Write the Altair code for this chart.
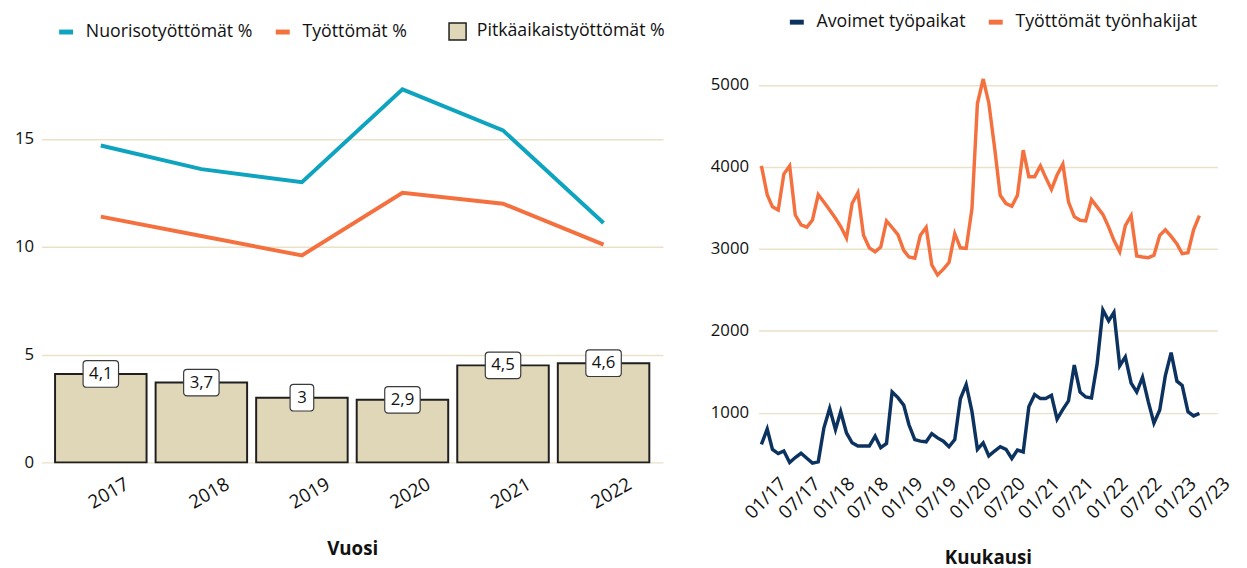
import altair as alt
import pandas as pd

# ---------------- data ----------------
years = ["2017", "2018", "2019", "2020", "2021", "2022"]
nuoriso = [14.7, 13.6, 13.0, 17.3, 15.4, 11.1]
tyottomat_pct = [11.4, 10.5, 9.6, 12.5, 12.0, 10.1]
pitka = [4.1, 3.7, 3.0, 2.9, 4.5, 4.6]

first_month = "2017-01-01"
avoimet = [612, 800, 552, 500, 532, 392, 452, 504, 444, 384, 400, 812, 1052, 792, 1012,
           752, 632, 592, 592, 592, 712, 572, 624, 1252, 1184, 1092, 852, 672, 652, 644,
           744, 692, 652, 584, 672, 1170, 1344, 1012, 552, 632, 472, 532, 584, 552, 440,
           544, 520, 1072, 1220, 1172, 1172, 1212, 920, 1040, 1144, 1580, 1252, 1192, 1180,
           1592, 2252, 2120, 2224, 1572, 1680, 1360, 1252, 1432, 1132, 872, 1032, 1452, 1732,
           1384, 1332, 1012, 960, 992]
tyonhakijat = [4012, 3660, 3512, 3472, 3912, 4012, 3412, 3292, 3264, 3352, 3660, 3572, 3472,
               3372, 3272, 3132, 3552, 3684, 3164, 3012, 2964, 3020, 3340, 3260, 3172, 2980,
               2900, 2884, 3164, 3260, 2804, 2680, 2752, 2832, 3184, 3012, 3004, 3492, 4772,
               5072, 4780, 4232, 3652, 3552, 3520, 3652, 4204, 3880, 3880, 4012, 3872, 3724,
               3900, 4032, 3572, 3392, 3348, 3340, 3600, 3512, 3420, 3264, 3104, 2964, 3284,
               3404, 2912, 2900, 2892, 2920, 3164, 3232, 3152, 3060, 2940, 2952, 3232, 3404]
tick_years = [2017, 2017, 2018, 2018, 2019, 2019, 2020, 2020, 2021, 2021, 2022, 2022, 2023, 2023]
tick_months = [1, 7, 1, 7, 1, 7, 1, 7, 1, 7, 1, 7, 1, 7]

left_series = ["Nuorisotyöttömät %", "Työttömät %"]
bar_series = "Pitkäaikaistyöttömät %"
right_series = ["Avoimet työpaikat", "Työttömät työnhakijat"]

# ---------------- styles ----------------
FONT = "Open Sans"
TEAL = "#0ea4c0"
ORANGE = "#f4713f"
NAVY = "#0c3260"
TAN = "#e0d7b9"
GRID = "#e9e1c8"
TXT = "#111111"
FS = 17
LFS = 18

PATH_WIDE = ("M-0.8,-0.75L0.8,-0.75Q1,-0.75 1,-0.55L1,0.55Q1,0.75 0.8,0.75"
             "L-0.8,0.75Q-1,0.75 -1,0.55L-1,-0.55Q-1,-0.75 -0.8,-0.75Z")
PATH_NARROW = ("M-0.467,-0.75L0.467,-0.75Q0.667,-0.75 0.667,-0.55L0.667,0.55Q0.667,0.75 0.467,0.75"
               "L-0.467,0.75Q-0.667,0.75 -0.667,0.55L-0.667,-0.55Q-0.667,-0.75 -0.467,-0.75Z")

# ---------------- left chart ----------------
line_df = pd.DataFrame({
    "Vuosi": years * 2,
    "arvo": nuoriso + tyottomat_pct,
    "sarja": [left_series[0]] * len(years) + [left_series[1]] * len(years),
})
bar_df = pd.DataFrame({"Vuosi": years, "arvo": pitka, "sarja": [bar_series] * len(years)})

x_left = alt.X(
    "Vuosi:N",
    scale=alt.Scale(paddingInner=0.09, paddingOuter=0.135),
    axis=alt.Axis(title="Vuosi", labelAngle=-30, labelAlign="center", labelBaseline="middle",
                  labelPadding=31, labelOffset=8, ticks=False, tickSize=0, domain=False,
                  labelFontSize=19, titleFontSize=19, titleFontWeight="bold",
                  titlePadding=28),
)
y_left = alt.Y(
    "arvo:Q",
    scale=alt.Scale(domain=[0, 18.5], nice=False, zero=True),
    axis=alt.Axis(title=None, values=[0, 5, 10, 15], grid=True, gridColor=GRID, gridWidth=1.5,
                  domain=False, ticks=False, tickSize=0, labelPadding=8, labelFontSize=FS),
)

bars = alt.Chart(bar_df).mark_bar(stroke="#1f1f1f", strokeWidth=2).encode(
    x=x_left, y=y_left,
    fill=alt.Fill("sarja:N", scale=alt.Scale(domain=[bar_series], range=[TAN]),
                  legend=alt.Legend(title=None, orient="none", legendX=413, legendY=-42,
                                    symbolType="square", symbolSize=300,
                                    symbolStrokeColor="#1f1f1f", symbolStrokeWidth=1.5,
                                    labelFontSize=LFS, labelOffset=10, labelLimit=0)),
)

lines = alt.Chart(line_df).mark_line(strokeWidth=4).encode(
    x=x_left, y=y_left,
    color=alt.Color("sarja:N", scale=alt.Scale(domain=left_series, range=[TEAL, ORANGE]),
                    legend=alt.Legend(title=None, orient="none", legendX=15, legendY=-42,
                                      direction="horizontal", symbolType="stroke",
                                      symbolStrokeWidth=5, symbolSize=200, labelFontSize=LFS,
                                      columnPadding=12, labelOffset=10, labelLimit=0)),
)

label_base = alt.Chart(bar_df).transform_calculate(
    teksti="replace(format(datum.arvo, '.1~f'), '.', ',')"
).transform_calculate(
    leveys="length(datum.teksti) > 1 ? 'wide' : 'narrow'"
)

boxes = label_base.mark_point(filled=True, fill="white", fillOpacity=1, stroke="#3a3a3a",
                              strokeWidth=1.2, strokeOpacity=1, opacity=1, size=1296).encode(
    x=x_left, y=y_left,
    shape=alt.Shape("leveys:N", scale=alt.Scale(domain=["wide", "narrow"],
                                                range=[PATH_WIDE, PATH_NARROW]), legend=None),
)
texts = label_base.mark_text(fontSize=FS, color=TXT, baseline="middle", align="center").encode(
    x=x_left, y=y_left, text="teksti:N",
)

left = alt.layer(bars, lines, boxes, texts).properties(width=631, height=405).resolve_scale(
    color="independent", fill="independent")

# ---------------- right chart ----------------
dates = pd.date_range(first_month, periods=len(avoimet), freq="MS").strftime("%Y-%m-%d").tolist()
right_df = pd.DataFrame({
    "kk": dates * 2,
    "arvo": avoimet + tyonhakijat,
    "sarja": [right_series[0]] * len(dates) + [right_series[1]] * len(dates),
})
tick_values = [alt.DateTime(year=y, month=m, date=1) for y, m in zip(tick_years, tick_months)]

right = alt.Chart(right_df).mark_line(strokeWidth=3.5).encode(
    x=alt.X("kk:T",
            scale=alt.Scale(domain=[alt.DateTime(year=2016, month=12, date=16),
                                    alt.DateTime(year=2023, month=9, date=5)]),
            axis=alt.Axis(title="Kuukausi", values=tick_values, format="%m/%y",
                          labelAngle=-45, labelAlign="center", labelBaseline="middle",
                          labelPadding=26, labelOffset=4, ticks=False, tickSize=0, domain=False,
                          grid=False, labelFontSize=19, titleFontSize=19,
                          titleFontWeight="bold", titlePadding=27, labelOverlap=False)),
    y=alt.Y("arvo:Q",
            scale=alt.Scale(domain=[273, 5261], nice=False, zero=False),
            axis=alt.Axis(title=None, values=[1000, 2000, 3000, 4000, 5000], format="d",
                          grid=True, gridColor=GRID, gridWidth=1.5, domain=False, ticks=False,
                          tickSize=0, labelPadding=10, labelFontSize=FS)),
    color=alt.Color("sarja:N", scale=alt.Scale(domain=right_series, range=[NAVY, ORANGE]),
                    legend=alt.Legend(title=None, orient="none", legendX=29, legendY=-52,
                                      direction="horizontal", symbolType="stroke",
                                      symbolStrokeWidth=5, symbolSize=200, labelFontSize=LFS,
                                      columnPadding=12, labelOffset=10, labelLimit=0)),
).properties(width=466, height=415)

chart = alt.hconcat(left, right, spacing=97, bounds="flush").resolve_scale(
    color="independent", x="independent", y="independent"
).resolve_legend(color="independent").properties(
    padding={"left": 6, "top": 0, "right": 5, "bottom": 5}
).configure(font=FONT).configure_view(stroke=None).configure_axis(
    labelColor=TXT, titleColor=TXT
).configure_legend(labelColor=TXT, padding=0)

chart.save("out.html", embed_options={"renderer": "svg", "actions": False})
